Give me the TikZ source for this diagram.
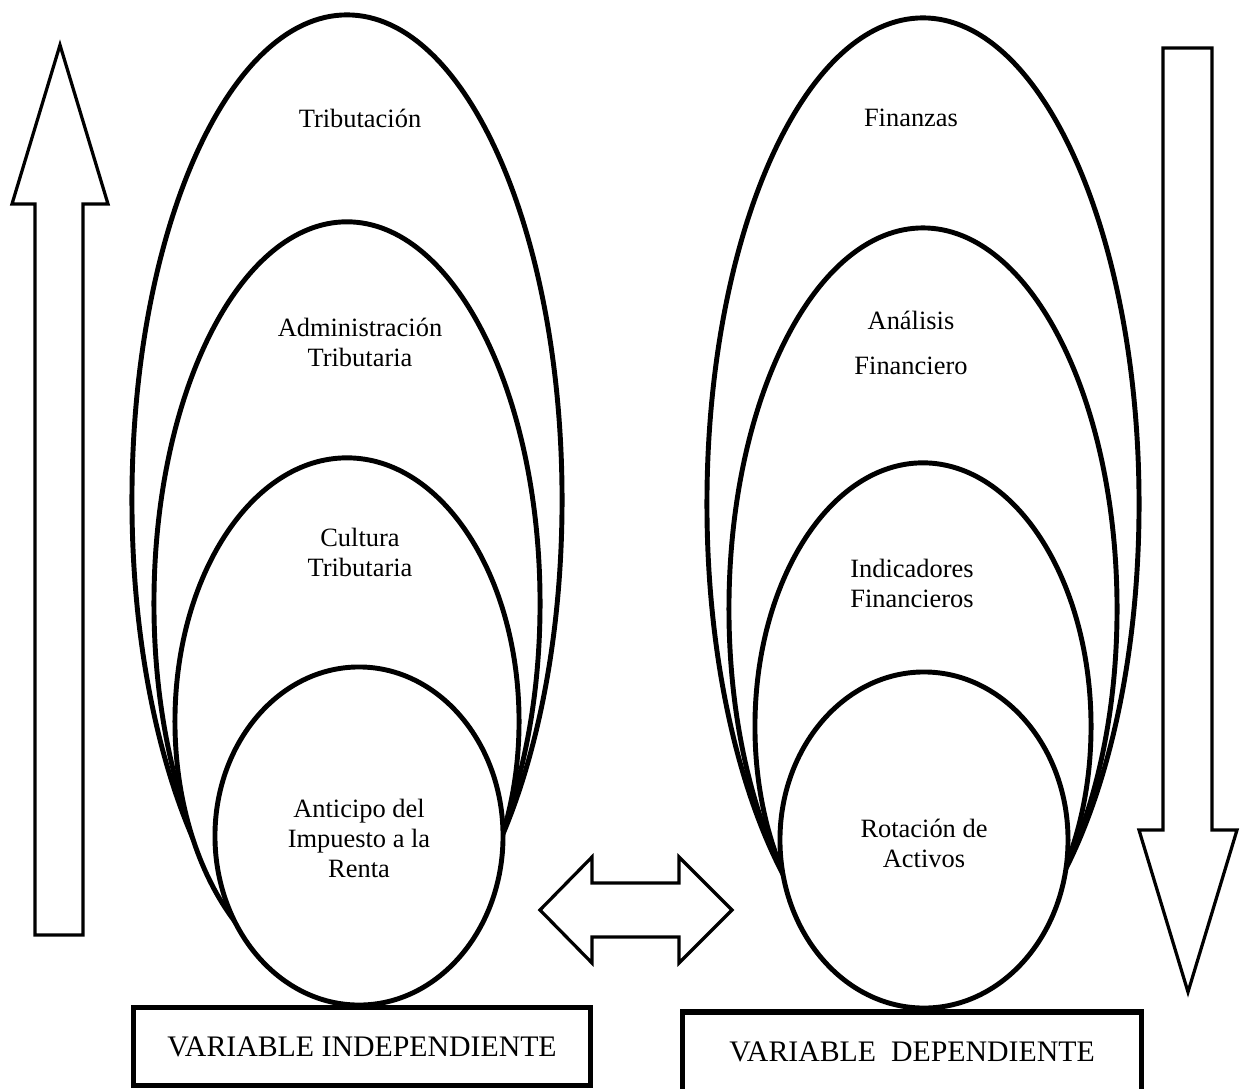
\documentclass[tikz,border=0pt]{standalone}
\usepackage{fontspec}
\setmainfont{Liberation Serif}
\usepackage{tikz}
\usetikzlibrary{shapes.geometric}

\begin{document}
\begin{tikzpicture}[
        x=0.025cm, y=-0.025cm,
        oval/.style={draw, ellipse, fill=white, line width=3.5pt, inner sep=0pt},
        txt/.style={align=center, inner sep=0pt, font=\fontsize{18.8}{21.3}\selectfont},
        varbox/.style={draw, line width=3.6pt, inner sep=0pt, font=\fontsize{21.2}{24}\selectfont},
        blk/.style={draw, fill=white, line width=2.3pt, line join=miter},
    ]
        \useasboundingbox (0,0) rectangle (1245,1088);

        % Left side: nested ovals, largest first
        \node[oval, minimum width=10.75cm, minimum height=24.25cm] (tribO)  at (347,500)   {};
        \node[oval, minimum width=9.65cm,  minimum height=19.08cm] (adminO) at (347,603.5) {};
        \node[oval, minimum width=8.6cm,   minimum height=13.18cm] (cultO)  at (347,721.5) {};
        \node[oval, minimum width=7.2cm,   minimum height=8.45cm]  (anticO) at (359,836)   {};

        % Right side: nested ovals, largest first
        \node[oval, minimum width=10.8cm,  minimum height=24.3cm]  (finO)   at (923,504)   {};
        \node[oval, minimum width=9.7cm,   minimum height=19.05cm] (analO)  at (923,609)   {};
        \node[oval, minimum width=8.4cm,   minimum height=13.18cm] (indO)   at (923,726.5) {};
        \node[oval, minimum width=7.2cm,   minimum height=8.4cm]   (rotO)   at (924,840)   {};

        % Labels inside the ovals
        \node[txt] (tribT)   at (360,118) {Tributación};
        \node[txt] (adminT)  at (360,342) {Administración\\Tributaria};
        \node[txt] (cultT)   at (360,552) {Cultura\\Tributaria};
        \node[txt] (anticT)  at (359,838) {Anticipo del\\Impuesto a la\\Renta};
        \node[txt] (finT)    at (911,118) {Finanzas};
        \node[txt] (analT)   at (911,343) {Análisis\\[11pt]Financiero};
        \node[txt] (indT)    at (912,583) {Indicadores\\Financieros};
        \node[txt] (rotT)    at (924,843) {Rotación de\\Activos};

        % Variable boxes at the bottom
        \node[varbox, minimum width=11.4cm,  minimum height=1.93cm] (indep) at (362,1046.5) {VARIABLE INDEPENDIENTE};
        \node[varbox, minimum width=11.45cm, minimum height=2cm]    (dep)   at (912,1052)   {VARIABLE~~DEPENDIENTE};

        % Block arrows
        \draw[blk] (35,935) -- (35,204) -- (12,204) -- (60,45) -- (108,204) -- (83,204) -- (83,935) -- cycle;
        \draw[blk] (1163,48) -- (1212,48) -- (1212,830) -- (1237,830) -- (1188,992) -- (1139,830) -- (1163,830) -- cycle;
        \draw[blk] (540,910) -- (592,857) -- (592,883) -- (679,883) -- (679,857) -- (732,910)
            -- (679,963) -- (679,937) -- (592,937) -- (592,963) -- cycle;
    \end{tikzpicture}
\end{document}
